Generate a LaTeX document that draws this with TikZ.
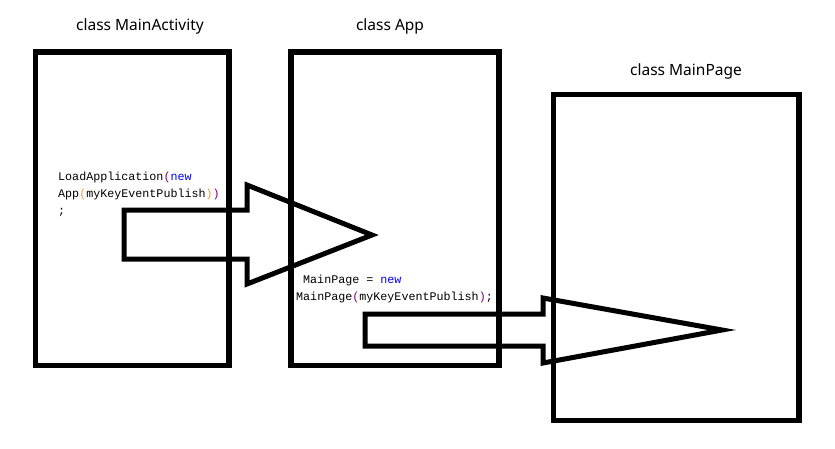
\documentclass[tikz,border=0pt]{standalone}
\usepackage{fontspec}
\setmainfont{Noto Sans}
\setmonofont{Liberation Mono}
\definecolor{kwblue}{RGB}{0,0,255}
\definecolor{brpurple}{RGB}{128,0,128}
\definecolor{brorange}{RGB}{230,160,60}
\begin{document}
\begin{tikzpicture}[x=1pt,y=-1pt,
  box/.style={draw=black,line width=5.2pt,inner sep=0pt,outer sep=0pt,anchor=center},
  blockarrow/.style={draw=black,line width=5pt,line join=miter},
  title/.style={font=\fontsize{15.5}{18}\selectfont,anchor=base,inner sep=0pt},
  code/.style={font=\ttfamily\fontsize{11.7}{17}\selectfont,anchor=base west,inner sep=0pt}]
\useasboundingbox[fill=white] (0,0) rectangle (835,448);
% boxes
\node[box,minimum width=193.5pt,minimum height=313.5pt] (ma) at (132.25,208.75) {};
\node[box,minimum width=208pt,minimum height=313.5pt] (app) at (395,208.75) {};
\node[box,minimum width=245.5pt,minimum height=326pt] (mp) at (676.25,257.5) {};
% titles
\node[title] (tma) at (140,30) {class MainActivity};
\node[title] (tapp) at (390,30) {class App};
\node[title] (tmp) at (686,75) {class MainPage};
% code
\node[code] (c1) at (58,180) {LoadApplication\textcolor{brpurple}{(}\textcolor{kwblue}{new}};
\node[code] (c2) at (58,197) {App\textcolor{brorange}{(}myKeyEventPublish\textcolor{brorange}{)}\textcolor{brpurple}{)}};
\node[code] (c3) at (58,214) {;};
\node[code] (c4) at (303,283) {MainPage = \textcolor{kwblue}{new}};
\node[code] (c5) at (296,300) {MainPage\textcolor{brpurple}{(}myKeyEventPublish\textcolor{brpurple}{)};};
% block arrows
\draw[blockarrow] (247,210) -- (124,210) -- (124,259) -- (247,259) -- (247,284) -- (372,235) -- (247,185) -- cycle;
\draw[blockarrow] (543,314) -- (365,314) -- (365,346) -- (543,346) -- (543,363) -- (722,330) -- (543,298) -- cycle;
\end{tikzpicture}
\end{document}
